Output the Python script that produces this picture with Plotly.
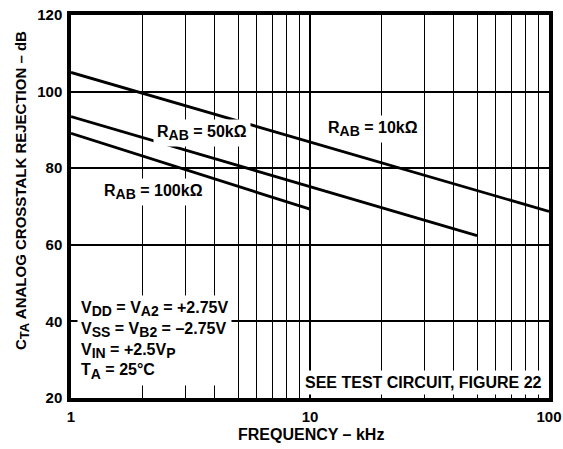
import plotly.graph_objects as go

# data
freq_10k = [1, 100]
db_10k = [105, 68.7]
freq_50k = [1, 50]
db_50k = [93.5, 62.4]
freq_100k = [1, 10]
db_100k = [89.1, 69.3]

x_ticks = [1, 10, 100]
y_ticks = [20, 40, 60, 80, 100, 120]

FONT = "Liberation Sans, Arial, Helvetica, sans-serif"

def sub(t, size=13):
    return "<sub><span style='font-size:%dpx'>%s</span></sub>" % (size, t)

fig = go.Figure()
for xs, ys in [(freq_10k, db_10k), (freq_50k, db_50k), (freq_100k, db_100k)]:
    fig.add_trace(go.Scatter(x=xs, y=ys, mode="lines",
                             line=dict(color="black", width=2.8),
                             showlegend=False, hoverinfo="skip"))

fig.update_layout(
    width=563, height=449,
    margin=dict(l=71, r=14, t=15, b=51, autoexpand=False),
    paper_bgcolor="white", plot_bgcolor="white",
    font=dict(family=FONT, color="black", size=15),
    xaxis=dict(type="log", range=[0, 2], dtick=1, automargin=False,
               showgrid=True, gridcolor="black", gridwidth=2.4,
               minor=dict(dtick="D1", showgrid=True, gridcolor="black", gridwidth=1.3, ticklen=0),
               showline=True, linecolor="black", linewidth=3.5, mirror=True,
               ticks="", tickvals=x_ticks, ticktext=["<b>%g</b>" % v for v in x_ticks],
               tickfont=dict(size=15), zeroline=False, ticklabelstandoff=2),
    yaxis=dict(range=[20, 120], dtick=20, automargin=False,
               showgrid=True, gridcolor="black", gridwidth=1.9,
               showline=True, linecolor="black", linewidth=3.5, mirror=True,
               ticks="", tickvals=y_ticks,
               ticktext=["<b>%d</b>" % v for v in y_ticks],
               tickfont=dict(size=15), zeroline=False, ticklabelstandoff=2),
)

def px(xp, yp):
    return (xp - 71) / 478, 1 - (yp - 15) / 383

def ann(xp, yp, text, **kw):
    x, y = px(xp, yp)
    d = dict(x=x, y=y, xref="paper", yref="paper", text=text, showarrow=False,
             xanchor="center", yanchor="middle",
             bgcolor="white", font=dict(size=16, family=FONT, color="black"))
    d.update(kw)
    fig.add_annotation(**d)

# axis titles
ann(22, 191, "<b>C" + sub("TA", 13) + " ANALOG CROSSTALK REJECTION – dB</b>",
    textangle=-90, font=dict(size=15, family=FONT, color="black"), bgcolor="rgba(0,0,0,0)")
ann(311, 434, "<b>FREQUENCY – kHz</b>", bgcolor="rgba(0,0,0,0)", borderpad=0)

# curve labels and notes
ann(202, 133, "<b>R" + sub("AB", 14) + " = 50kΩ</b>", borderpad=3)
ann(153, 192, "<b>R" + sub("AB", 14) + " = 100kΩ</b>", borderpad=3)
ann(373, 129, "<b>R" + sub("AB", 14) + " = 10kΩ</b>", borderpad=3)
ann(77, 295, "<b>V" + sub("DD", 14) + " = V" + sub("A2", 14) + " = +2.75V<br>"
             "V" + sub("SS", 14) + " = V" + sub("B2", 14) + " = –2.75V<br>"
             "V" + sub("IN", 14) + " = +2.5V" + sub("P", 14) + "<br>"
             "T" + sub("A", 14) + " = 25°C</b>",
    xanchor="left", yanchor="top", align="left", borderpad=3)
ann(546, 395, "<b>SEE TEST CIRCUIT, FIGURE 22</b>", xanchor="right", yanchor="bottom", borderpad=3)

fig.write_html("out.html", config={"displayModeBar": False},
               post_script="document.body.style.margin='0';document.body.style.overflow='hidden';")
